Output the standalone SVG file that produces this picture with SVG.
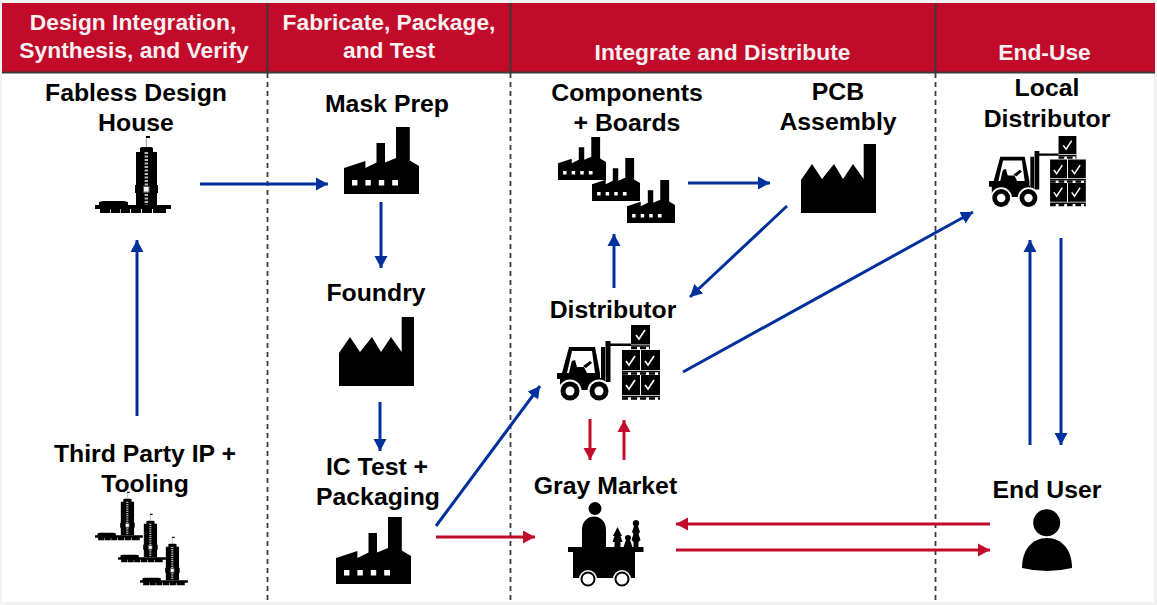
<svg xmlns="http://www.w3.org/2000/svg" width="1157" height="605" viewBox="0 0 1157 605">
<style>
text{font-family:"Liberation Sans",Arial,sans-serif;font-weight:700;text-anchor:middle}
.h{font-size:22.800px;fill:#f6f0f1}
.n{font-size:24.800px;fill:#000}
.b{stroke:#00309c;stroke-width:3;fill:none;marker-end:url(#mb)}
.r{stroke:#c20a2b;stroke-width:3;fill:none;marker-end:url(#mr)}
.d{stroke:#3a3a3a;stroke-width:1.800;stroke-dasharray:5 4;fill:none}
.s{stroke:#3a3a3a;stroke-width:2;fill:none}
</style>
<defs>
<marker id="mb" markerUnits="userSpaceOnUse" markerWidth="13" markerHeight="14" refX="12" refY="7" orient="auto"><path d="M0 .5L12 7L0 13.500Z" fill="#00309c"/></marker>
<marker id="mr" markerUnits="userSpaceOnUse" markerWidth="13" markerHeight="14" refX="12" refY="7" orient="auto"><path d="M0 .5L12 7L0 13.500Z" fill="#c20a2b"/></marker>
<g id="factory">
<path d="M0 67V41L21.400 34V41L32.500 35.500V16H41V35.500L52 31V0H65.800V33.500L75 39V67Z"/>
<path d="M8 53h5.400v5.400h-5.400zM21.400 53h5.400v5.400h-5.400zM34.800 53h5.400v5.400h-5.400zM48.200 53h5.800v5.400h-5.800z" fill="#fff"/>
</g>
<path id="saw" d="M0 36L11 20L21 35L33 20L42 35L52 20L62.700 35V0H75V69H0Z"/>
<g id="tower">
<path d="M0 75H76V79H0ZM5 79H15V83H5ZM15.700 79H25V83H15.700ZM25.700 79H35V83H25.700ZM36 79H46V83H36ZM47 79H57V83H47ZM58 79H71V83H58ZM4 75V72L8 71H29L33 72V75Z"/>
<path d="M41 75V63H40V55H41V22H45V18L47 17H56L58 18V22H62V55H63V63H62V75Z"/>
<path d="M51.300 17V6" stroke="#999" stroke-width="1"/><path d="M51 6h4v2h-4z"/>
<path d="M51.300 22V75" stroke="#b8b8b8" stroke-width="3.400" stroke-dasharray="2 1.500"/>
<rect x="48.500" y="56.500" width="5.600" height="5.600" fill="#fff" stroke="#555" stroke-width="1"/>
</g>
<g id="lift">
<path d="M29 27H55L60 53H55L52 31H32L27 53H22Z"/>
<path d="M61 27H65V62H61ZM65.500 21H70.500V62H65.500ZM70 23.500H91V26H70Z"/>
<path d="M29 53L31 44L32 41L35 40L37 47H44L47 53ZM43 46L50 41L52 43L46 48Z"/>
<path d="M17 53H60V58H61V70H20V59H17Z"/>
<circle cx="30" cy="71" r="11.500" fill="#fff"/><circle cx="59" cy="71" r="11.500" fill="#fff"/>
<circle cx="30" cy="71" r="9.500"/><circle cx="30" cy="71" r="4.500" fill="#fff"/>
<circle cx="59" cy="71" r="9.500"/><circle cx="59" cy="71" r="4.500" fill="#fff"/>
<path d="M91 5H110V24.500H91ZM82 30H100V50H82ZM101 30H120V50H101ZM82 55H100V75H82ZM101 55H120V75H101Z"/>
<path d="M91 26H110M82 51.500H120M82 76.500H120" stroke="#000" stroke-width="1.500"/>
<path d="M91 28H110M82 53.500H120M82 78.500H120" stroke="#000" stroke-width="2.500" stroke-dasharray="6 3"/>
<path d="M96 15L99 19L105 10M86 41L89 45L95 36M105 41L108 45L114 36M86 65L89 69L95 60M105 65L108 69L114 60" stroke="#fff" stroke-width="1.600" fill="none"/>
</g>
</defs>
<rect width="1157" height="605" fill="#f2f2f2"/>
<rect x="2" y="3" width="1152" height="599" fill="#fff"/>
<g id="header">
<rect x="2" y="3" width="1153" height="69" fill="#c20a2b"/>
<path d="M2 72.500H1155" stroke="#3a3a3a" stroke-width="2"/>
<path class="s" d="M267.500 3V72M510.500 3V72M935.500 3V72"/>
<text class="h" x="133" y="30">Design Integration,</text>
<text class="h" x="134" y="58">Synthesis, and Verify</text>
<text class="h" x="389" y="30">Fabricate, Package,</text>
<text class="h" x="389" y="58">and Test</text>
<text class="h" x="722.500" y="60">Integrate and Distribute</text>
<text class="h" x="1044.500" y="60">End-Use</text>
</g>
<path class="d" d="M267.500 73V602M510.500 73V602M935.500 73V602"/>
<g id="connectors">
<path class="b" d="M200 184H328"/>
<path class="b" d="M137 416V240"/>
<path class="b" d="M381 202V268"/>
<path class="b" d="M380 402V451"/>
<path class="b" d="M688 183H770"/>
<path class="b" d="M787 206L690 297"/>
<path class="b" d="M614 288V234"/>
<path class="b" d="M436 526L540 386"/>
<path class="b" d="M683 372L973 212"/>
<path class="b" d="M1030 445V240"/>
<path class="b" d="M1061 238V445"/>
<path class="r" d="M436 537H535"/>
<path class="r" d="M590 419V460"/>
<path class="r" d="M624 460V420"/>
<path class="r" d="M990 524H676"/>
<path class="r" d="M676 550H990"/>
</g>
<g id="fabless"><text class="n" x="136" y="101">Fabless Design</text><text class="n" x="136" y="131">House</text><use href="#tower" x="95" y="130"/></g>
<g id="third-party"><text class="n" x="145" y="462">Third Party IP +</text><text class="n" x="145" y="492">Tooling</text>
<use href="#tower" transform="translate(95 488) scale(.63)"/><use href="#tower" transform="translate(118 510) scale(.63)"/><use href="#tower" transform="translate(140 533) scale(.63)"/></g>
<g id="mask-prep"><text class="n" x="387" y="112">Mask Prep</text><use href="#factory" x="344" y="127"/></g>
<g id="foundry"><text class="n" x="376" y="301">Foundry</text><use href="#saw" x="339" y="317"/></g>
<g id="ic-test"><text class="n" x="377" y="475">IC Test +</text><text class="n" x="378" y="505">Packaging</text><use href="#factory" x="336" y="517"/></g>
<g id="components"><text class="n" x="627" y="101">Components</text><text class="n" x="627" y="131">+ Boards</text>
<use href="#factory" transform="translate(558 137) scale(.64)"/><use href="#factory" transform="translate(592 158) scale(.64)"/><use href="#factory" transform="translate(627 180) scale(.64)"/></g>
<g id="pcb"><text class="n" x="838" y="100">PCB</text><text class="n" x="838" y="130">Assembly</text><use href="#saw" x="801" y="144"/></g>
<g id="distributor"><text class="n" x="613" y="318">Distributor</text><use href="#lift" transform="translate(540 320)"/></g>
<g id="gray-market"><text class="n" x="605.500" y="494">Gray Market</text>
<circle cx="595" cy="508.500" r="6.500"/>
<path d="M568 547H643.500V552H635V578H573V552H568ZM582 547V530C582 512 606 512 606 530V547Z"/>
<path d="M617.500 527L622 536H620.500L622.500 542H620.500V547H614.500V542H612.500L614.500 536H613ZM628 535C631 535 632 538 630 540L632.500 547H623.500L626 540C624 538 625 535 628 535ZM636 520C639.500 520 640 524 638 526L640 532L638.500 534L640.500 540L638.500 542V547H633.500V542L631.500 540L633.500 534L632 532L634 526C632 524 632.500 520 636 520Z"/>
<circle cx="588" cy="579" r="9" fill="#fff"/><circle cx="622" cy="579" r="9" fill="#fff"/>
<circle cx="588" cy="579" r="6.500" fill="#fff" stroke="#000" stroke-width="2"/><circle cx="622" cy="579" r="6.500" fill="#fff" stroke="#000" stroke-width="2"/></g>
<g id="local-distributor"><text class="n" x="1047" y="96">Local</text><text class="n" x="1047" y="127">Distributor</text><use href="#lift" transform="translate(973 131.300) scale(.94)"/></g>
<g id="end-user"><text class="n" x="1047" y="498">End User</text><circle cx="1046.700" cy="522.700" r="13.500"/><path d="M1022 568C1022 550 1032 538 1047 538C1062 538 1072 550 1072 568Q1047 574 1022 568Z"/></g>
</svg>
